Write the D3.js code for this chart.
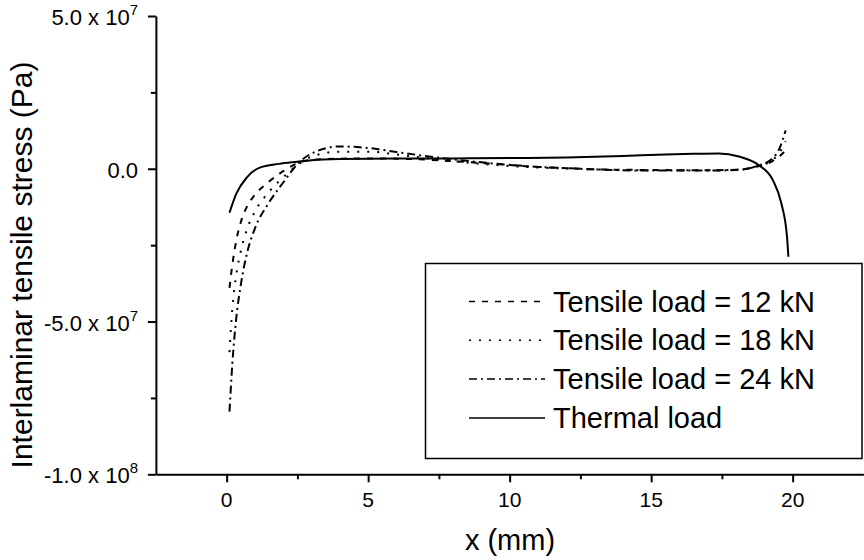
<!DOCTYPE html>
<html>
<head>
<meta charset="utf-8">
<script src="https://cdn.jsdelivr.net/npm/d3@7"></script>
<style>
  body { margin: 0; background: #fff; }
  svg { display: block; }
  text { font-family: "Liberation Sans", Arial, sans-serif; fill: #000; }
</style>
</head>
<body>
<div id="chart"></div>
<script>
// x positions (mm)
var xTensile = [0.1, 0.2, 0.35, 0.5, 0.75, 1, 1.5, 2, 2.5, 3, 4, 5, 6, 7, 8, 9, 10, 11, 12, 13, 15, 17, 18, 18.7, 19.3, 19.55, 19.75];
var xThermal = [0.1, 0.35, 0.7, 1.15, 1.85, 2.5, 3, 4, 6, 8, 10, 12, 14, 15.5, 16.5, 17.4, 18.1, 18.8, 19.3, 19.6, 19.8, 19.85];

// stress values in units of 1e7 Pa
var load12 = [-3.9, -3.15, -2.3, -1.75, -1.18, -0.85, -0.42, -0.08, 0.18, 0.29, 0.33, 0.34, 0.33, 0.3, 0.25, 0.19, 0.12, 0.06, 0.02, -0.02, -0.04, -0.05, -0.03, 0.06, 0.26, 0.42, 0.6];
var load18 = [-6.0, -4.6, -3.4, -2.7, -1.9, -1.4, -0.75, -0.28, 0.12, 0.4, 0.56, 0.56, 0.47, 0.35, 0.25, 0.16, 0.09, 0.04, 0.01, -0.02, -0.05, -0.05, -0.03, 0.07, 0.3, 0.55, 0.9];
var load24 = [-7.95, -6.4, -4.8, -3.8, -2.65, -1.95, -1.1, -0.45, 0.15, 0.5, 0.73, 0.68, 0.55, 0.42, 0.31, 0.21, 0.13, 0.06, 0.02, -0.02, -0.06, -0.06, -0.04, 0.08, 0.35, 0.7, 1.25];
var thermal = [-1.44, -0.8, -0.3, 0.03, 0.16, 0.23, 0.28, 0.32, 0.34, 0.34, 0.35, 0.37, 0.42, 0.47, 0.49, 0.5, 0.4, 0.12, -0.37, -1.13, -2.22, -2.88];

var seriesNames = ['Tensile load = 12 kN', 'Tensile load = 18 kN', 'Tensile load = 24 kN', 'Thermal load'];

// ticks
var xTickValues = [0, 5, 10, 15, 20];
var xMinorTicks = [2.5, 7.5, 12.5, 17.5];
var yTickValues = [5e7, 0, -5e7, -1e8];
var yTickMantissa = ['5.0 x 10', '0.0', '-5.0 x 10', '-1.0 x 10'];
var yTickExponent = ['7', '', '7', '8'];
var yMinorTicks = [2.5e7, -2.5e7, -7.5e7];

var width = 864, height = 560;

var svg = d3.select('#chart').append('svg')
    .attr('width', width)
    .attr('height', height);

var x = d3.scaleLinear().domain([-2.5, 22.5]).range([155.9, 863.4]);
var y = d3.scaleLinear().domain([-1e8, 5e7]).range([474.3, 16]);

var dashes = ['6,7', '2,8', '8,4,2,4', null];

var series = [load12, load18, load24, thermal].map(function(vals, i) {
  var xs = i === 3 ? xThermal : xTensile;
  return {
    name: seriesNames[i],
    dash: dashes[i],
    points: vals.map(function(v, j) { return [xs[j], v * 1e7]; })
  };
});

// y axis, major and minor ticks
svg.append('g')
    .attr('transform', 'translate(' + x(-2.5) + ',0)')
    .call(d3.axisLeft(y).tickValues(yTickValues).tickSize(8).tickSizeOuter(0).tickFormat(''));
svg.append('g')
    .attr('transform', 'translate(' + x(-2.5) + ',0)')
    .call(d3.axisLeft(y).tickValues(yMinorTicks).tickSize(5).tickFormat(''))
    .select('.domain').remove();

// x axis, major and minor ticks
svg.append('g')
    .attr('transform', 'translate(0,' + y(-1e8) + ')')
    .call(d3.axisBottom(x).tickValues(xTickValues).tickSize(8).tickSizeOuter(0).tickFormat(''));
svg.append('g')
    .attr('transform', 'translate(0,' + y(-1e8) + ')')
    .call(d3.axisBottom(x).tickValues(xMinorTicks).tickSize(5).tickFormat(''))
    .select('.domain').remove();

svg.selectAll('.domain, .tick line')
    .attr('stroke', '#000')
    .attr('stroke-width', 2);

// y tick labels with superscript exponents
var yLabels = svg.append('g').selectAll('text')
    .data(yTickValues)
    .enter().append('text')
    .attr('x', 138)
    .attr('y', function(d) { return y(d) + 9; })
    .attr('text-anchor', 'end')
    .style('font-size', '22px');
yLabels.append('tspan').text(function(d, i) { return yTickMantissa[i]; });
yLabels.append('tspan')
    .attr('dy', -10)
    .style('font-size', '15px')
    .text(function(d, i) { return yTickExponent[i]; });

svg.append('g').selectAll('text')
    .data(xTickValues)
    .enter().append('text')
    .attr('x', function(d) { return x(d); })
    .attr('y', 507)
    .attr('text-anchor', 'middle')
    .style('font-size', '21px')
    .text(function(d) { return d; });

// axis titles
svg.append('text')
    .attr('transform', 'translate(32,265) rotate(-90)')
    .attr('text-anchor', 'middle')
    .style('font-size', '30px')
    .text('Interlaminar tensile stress (Pa)');

svg.append('text')
    .attr('x', 510)
    .attr('y', 550)
    .attr('text-anchor', 'middle')
    .style('font-size', '29px')
    .text('x (mm)');

// curves
var line = d3.line()
    .x(function(d) { return x(d[0]); })
    .y(function(d) { return y(d[1]); })
    .curve(d3.curveMonotoneX);

svg.append('g').selectAll('path')
    .data(series)
    .enter().append('path')
    .attr('d', function(d) { return line(d.points); })
    .attr('fill', 'none')
    .attr('stroke', '#000')
    .attr('stroke-width', 2)
    .attr('stroke-dasharray', function(d) { return d.dash; });

// legend
var legend = svg.append('g');
legend.append('rect')
    .attr('x', 425.5)
    .attr('y', 263.5)
    .attr('width', 436.5)
    .attr('height', 195)
    .attr('fill', '#fff')
    .attr('stroke', '#000')
    .attr('stroke-width', 1.5);

var rows = legend.selectAll('g.row')
    .data(series)
    .enter().append('g')
    .attr('class', 'row')
    .attr('transform', function(d, i) { return 'translate(0,' + (311.5 + i * 38.8) + ')'; });

rows.append('line')
    .attr('x1', 469)
    .attr('x2', 545)
    .attr('y1', -10)
    .attr('y2', -10)
    .attr('stroke', '#000')
    .attr('stroke-width', 1.5)
    .attr('stroke-dasharray', function(d) { return d.dash; });

rows.append('text')
    .attr('x', 553)
    .style('font-size', '29px')
    .text(function(d) { return d.name; });
</script>
</body>
</html>
